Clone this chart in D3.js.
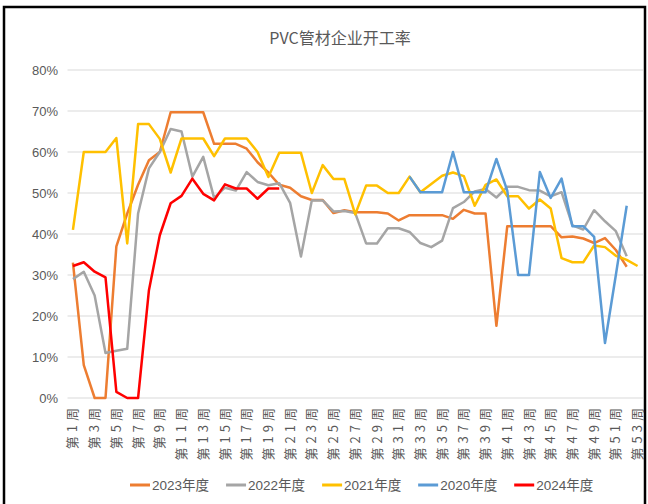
<!DOCTYPE html>
<html>
<head>
<meta charset="utf-8">
<script src="https://cdn.jsdelivr.net/npm/d3@7"></script>
<style>
  body { margin: 0; background: #fff; }
  text { font-family: "Liberation Sans Narrow", "Liberation Sans", "Noto Sans CJK SC", sans-serif; }
</style>
</head>
<body>
<script>
let width = 648, height = 504;

// weeks 1..53
const weeks = d3.range(1, 54);
const tickWeeks = weeks.filter(w => w % 2 === 1);
const yTicks = [0, 0.1, 0.2, 0.3, 0.4, 0.5, 0.6, 0.7, 0.8];

const seriesNames = ["2023年度", "2022年度", "2021年度", "2020年度", "2024年度"];
const seriesColors = ["#ED7D31", "#A5A5A5", "#FFC000", "#5B9BD5", "#FF0000"];

// values in %, null = no data
const y2023 = [33, 8, 0, 0, 37, 45, 52, 58, 60, 69.7, 69.7, 69.7, 69.7, 62, 62, 62, 60.8, 57.5, 55, 52,
    51.3, 49.2, 48.3, 48.3, 45.1, 45.8, 45.3, 45.3, 45.3, 45, 43.3, 44.6, 44.6, 44.6, 44.6, 43.7, 45.9, 45, 45, 17.6,
    41.9, 41.9, 41.9, 41.9, 41.9, 39.2, 39.4, 38.9, 37.8, 39, 36.1, 32, null];
const y2022 = [29, 30.8, 25, 11, 11.5, 12, 45, 56, 60, 65.6, 65, 54, 58.8, 48.8, 51.3, 50.6, 55.1, 52.7, 51.9, 52.4,
    47.6, 34.5, 48.2, 48.2, 45.5, 45.6, 45.1, 37.7, 37.7, 41.4, 41.4, 40.5, 37.8, 36.8, 38.4, 46.3, 47.8, 50.4, 51, 48.9,
    51.5, 51.5, 50.7, 50.6, 49.2, 50.2, 42.1, 41.1, 45.8, 43.1, 40.7, 34.6, null];
const y2021 = [41, 60, 60, 60, 63.4, 37.7, 66.8, 66.8, 63.2, 55, 63.3, 63.3, 63.3, 59, 63.3, 63.3, 63.3, 60, 53.9, 59.8,
    59.8, 59.8, 50, 56.8, 53.4, 53.4, 44.8, 51.8, 51.8, 50, 50, 54, 50.2, 52.2, 54.2, 55, 54.1, 46.9, 52, 53.3,
    49.2, 49.2, 46.2, 48.4, 46.2, 34.1, 33.1, 33.1, 37.2, 36.8, 34.7, 33.7, 32.2];
const y2020 = [null, null, null, null, null, null, null, null, null, null, null, null, null, null, null, null, null, null, null, null,
    null, null, null, null, null, null, null, null, null, null, null, 54, 50.2, 50.2, 50.2, 60, 50.2, 50.2, 50.2, 58.3,
    50.6, 30, 30, 55.1, 48.8, 53.5, 41.9, 41.9, 39.3, 13.4, 30, 46.9, null];
const y2024 = [32.2, 33.1, 30.8, 29.4, 1.5, 0, 0, 26.3, 39.7, 47.5, 49.3, 53.5, 49.8, 48.2, 52.1, 51.1, 51.1, 48.6, 51.1, 51.1];

const seriesValues = [y2023, y2022, y2021, y2020, y2024];

const svg = d3.create("svg")
    .attr("width", width)
    .attr("height", height);

document.body.appendChild(svg.node());

// outer frame (bottom is cut off in the picture)
svg.append("rect")
    .attr("x", 4).attr("y", 7)
    .attr("width", 641).attr("height", 520)
    .attr("fill", "none")
    .attr("stroke", "#000")
    .attr("stroke-width", 2.5);

svg.append("text")
    .attr("x", 340).attr("y", 44)
    .attr("text-anchor", "middle")
    .attr("fill", "#595959")
    .style("font-family", "'Noto Sans CJK SC', sans-serif")
    .style("font-size", "16px")
    .text("PVC管材企业开工率");

const x = d3.scaleBand()
    .domain(weeks)
    .range([67.5, 643]);

const y = d3.scaleLinear()
    .domain([0, 0.8])
    .range([398, 70]);

const cx = w => x(w) + x.bandwidth() / 2;

// gridlines
svg.append("g")
    .selectAll("line")
    .data(yTicks)
    .join("line")
    .attr("x1", 67.5).attr("x2", 643)
    .attr("y1", d => y(d)).attr("y2", d => y(d))
    .attr("stroke", "#d9d9d9")
    .attr("stroke-width", 1);

// y axis
const yAxis = svg.append("g")
    .attr("transform", "translate(58,0)")
    .call(d3.axisLeft(y).tickValues(yTicks).tickFormat(d3.format(".0%")).tickSize(0).tickPadding(0));
yAxis.select(".domain").remove();
yAxis.selectAll("text")
    .attr("fill", "#595959")
    .style("font-size", "13px");

// x axis
const xAxis = svg.append("g")
    .attr("transform", "translate(0,398)")
    .call(d3.axisBottom(x).tickValues(tickWeeks).tickFormat(w => "第" + w + "周").tickSize(0));
xAxis.select(".domain").remove();
xAxis.selectAll("text")
    .attr("fill", "#595959")
    .style("font-family", "'Noto Sans CJK SC', sans-serif")
    .style("font-size", "13px")
    .style("letter-spacing", "4px")
    .attr("text-anchor", "end")
    .attr("dy", "0.35em")
    .attr("transform", "translate(0,6) rotate(-90)")
    .attr("y", 0).attr("x", 0);

// lines
const line = d3.line()
    .defined(d => d.v != null)
    .x(d => cx(d.w))
    .y(d => y(d.v / 100));

svg.append("g")
    .selectAll("path")
    .data(seriesValues.map((vals, i) => ({ name: seriesNames[i], color: seriesColors[i], pts: vals.map((v, j) => ({ w: weeks[j], v: v })) })))
    .join("path")
    .attr("d", d => line(d.pts))
    .attr("fill", "none")
    .attr("stroke", d => d.color)
    .attr("stroke-width", 2.5)
    .attr("stroke-linejoin", "round");

// legend
const legend = svg.append("g").attr("transform", "translate(0,485)");
let lx = 130;
seriesNames.forEach((name, i) => {
    const g = legend.append("g").attr("transform", `translate(${lx},0)`);
    g.append("line")
        .attr("x1", 0).attr("x2", 20)
        .attr("stroke", seriesColors[i])
        .attr("stroke-width", 3);
    const t = g.append("text")
        .attr("x", 22).attr("dy", "0.35em")
        .attr("fill", "#595959")
        .style("font-size", "13.5px")
        .text(name);
    lx += 22 + t.node().getComputedTextLength() + 17;
});
</script>
</body>
</html>
